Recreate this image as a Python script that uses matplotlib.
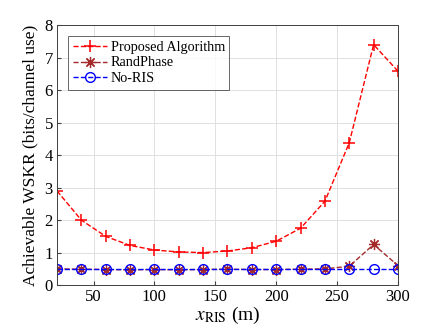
import matplotlib
matplotlib.use("Agg")
import matplotlib.pyplot as plt

plt.rcParams['font.family'] = ['Liberation Serif', 'DejaVu Serif']
plt.rcParams['mathtext.fontset'] = 'stix'

x = [20, 40, 60, 80, 100, 120, 140, 160, 180, 200, 220, 240, 260, 280, 300]
proposed = [2.9, 2.0, 1.5, 1.22, 1.08, 1.02, 1.0, 1.05, 1.15, 1.35, 1.75, 2.58, 4.38, 7.4, 6.58]
randphase = [0.5, 0.49, 0.48, 0.47, 0.48, 0.47, 0.48, 0.49, 0.48, 0.48, 0.49, 0.5, 0.58, 1.25, 0.6]
noris = [0.49] * 15
xticks = [50, 100, 150, 200, 250, 300]
yticks = [0, 1, 2, 3, 4, 5, 6, 7, 8]

fig = plt.figure(figsize=(4.4, 3.3), dpi=100)
ax = fig.add_axes([0.1295, 0.136, 0.775, 0.788])

ax.plot(x, proposed, linestyle='--', color='red', marker='+', markersize=9,
        markeredgewidth=1.1, linewidth=1.0, label='Proposed Algorithm')
ax.plot(x, randphase, linestyle='--', color='#a52a2a', marker=(8, 2, 0), markersize=8,
        markeredgewidth=0.9, linewidth=1.0, label='RandPhase')
ax.plot(x, noris, linestyle='--', color='blue', marker='o', markersize=7,
        markerfacecolor='none', markeredgewidth=1.0, linewidth=1.0, label='No-RIS')

ax.set_xlim(20, 300)
ax.set_ylim(0, 8)
ax.set_xticks(xticks)
ax.set_yticks(yticks)
ax.grid(True, color='#e0e0e0', linewidth=0.7)
ax.set_axisbelow(True)
for s in ax.spines.values():
    s.set_color('#404040')
    s.set_linewidth(0.7)
ax.tick_params(direction='in', length=3, color='#404040', labelsize=12, pad=3)
ax.set_xlabel(r'$x_{\mathrm{RIS}}$ (m)', fontsize=14, labelpad=0)
ax.set_ylabel('Achievable WSKR (bits/channel use)', fontsize=12.5, labelpad=4)

leg = ax.legend(loc='upper left', fontsize=10.2, frameon=True, fancybox=False,
                edgecolor='#404040', handlelength=2.4, borderpad=0.3,
                labelspacing=0.2, handletextpad=0.3, borderaxespad=0.8)
leg.get_frame().set_linewidth(0.7)

fig.savefig('out.png', dpi=100)
